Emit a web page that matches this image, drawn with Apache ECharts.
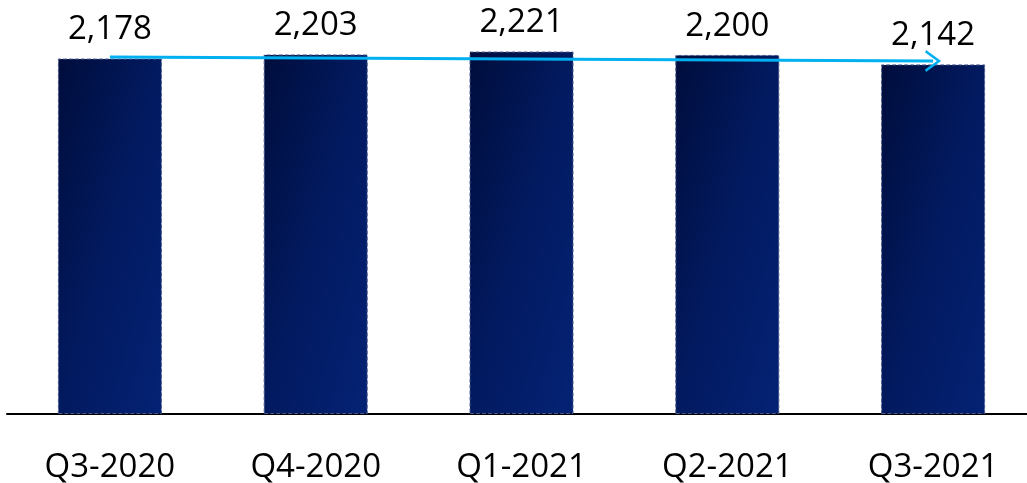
<!DOCTYPE html>
<html><head><meta charset="utf-8">
<script src="https://cdn.jsdelivr.net/npm/echarts@6/dist/echarts.min.js"></script>
<style>html,body{margin:0;padding:0;background:#fff}#c{width:1027px;height:483px}</style>
</head><body><div id="c"></div>
<script>
const categories = ['Q3-2020', 'Q4-2020', 'Q1-2021', 'Q2-2021', 'Q3-2021'];
const values = [2178, 2203, 2221, 2200, 2142];
const trendStart = ['Q3-2020', 2187];
const trendEnd = ['Q3-2021', 2163];

const chart = echarts.init(document.getElementById('c'));
const font = 'Open Sans';
chart.setOption({
  animation: false,
  grid: { left: 7, top: 6, bottom: 69, width: 1029, outerBoundsMode: 'none', containLabel: false },
  xAxis: {
    type: 'category', data: categories,
    axisLine: { lineStyle: { color: '#000', width: 2 } },
    axisTick: { show: false },
    axisLabel: { color: '#000', fontSize: 33, fontFamily: font, margin: 37 }
  },
  yAxis: { type: 'value', min: 0, max: 2500, show: false, splitLine: { show: false } },
  series: [{
    type: 'bar', data: values, barWidth: 104,
    itemStyle: {
      color: new echarts.graphic.LinearGradient(0, 0, 1.85, 0.153, [
        { offset: 0, color: '#000d3c' },
        { offset: 0.5, color: '#021a60' },
        { offset: 1, color: '#042275' }
      ]),
      borderColor: '#4a5a8e', borderWidth: 1, borderType: 'dashed'
    },
    label: {
      show: true, position: 'top', distance: 12, color: '#000',
      fontSize: 33, fontFamily: font,
      formatter: p => p.value.toLocaleString('en-US')
    },
    markLine: {
      silent: true,
      symbol: ['none', 'path://M0,12 L6,0 L12,12 L10.6,12.8 L6,3.4 L1.4,12.8 Z'],
      symbolSize: [22, 16],
      symbolOffset: [-8, 0],
      label: { show: false },
      lineStyle: { color: '#00b0f0', width: 3, type: 'solid' },
      data: [[{ coord: trendStart }, { coord: trendEnd }]]
    }
  }]
});
</script></body></html>
